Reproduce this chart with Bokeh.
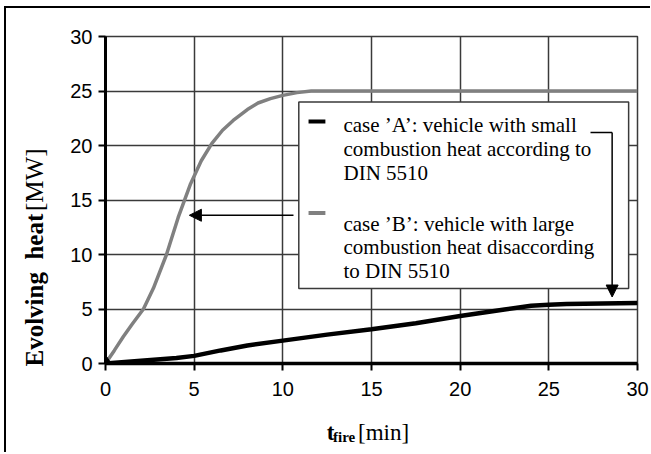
import math
from bokeh.plotting import figure
from bokeh.layouts import row, column
from bokeh.models import Range1d, FixedTicker, Arrow, NormalHead
from bokeh.core.properties import value
from bokeh.embed import file_html
from bokeh.resources import INLINE

# ---- data ----
t_A = [0, 2, 4, 5, 6.5, 8, 10, 12.5, 15, 17.5, 20, 22.5, 24, 25, 26, 28, 30]
heat_A = [0, 0.25, 0.5, 0.7, 1.2, 1.65, 2.1, 2.65, 3.15, 3.7, 4.35, 4.95, 5.3, 5.4, 5.45, 5.5, 5.55]

t_B = [0, 0.5, 1, 1.5, 2.14, 2.7, 3.44, 4.1, 4.8, 5.4, 6.0, 6.6, 7.2, 8.0, 8.6, 9.3, 10, 10.8, 11.6, 12.8, 15, 20, 25, 30]
heat_B = [0, 1.2, 2.45, 3.6, 5.0, 6.9, 10.0, 13.4, 16.5, 18.6, 20.2, 21.4, 22.3, 23.3, 23.9, 24.3, 24.6, 24.85, 25.0, 25.0, 25.0, 25.0, 25.0, 25.0]

ticks = [0, 5, 10, 15, 20, 25, 30]

legend_A = ["case \u2019A\u2019: vehicle with small", "combustion heat according to", "DIN 5510"]
legend_B = ["case \u2019B\u2019: vehicle with large", "combustion heat disaccording", "to DIN 5510"]

y_title_bold = "Evolving\u00a0 heat"
y_title_unit = "[MW]"
x_title_main = "t"
x_title_sub = "fire"
x_title_unit = "[min]"

SERIF = "Liberation Serif"
SANS = "Liberation Sans"

YW, TOTAL_H = 50, 444
MAIN_W, MAIN_H = 594, 400
XH = TOTAL_H - MAIN_H

p = figure(width=MAIN_W, height=MAIN_H, x_range=Range1d(0, 30), y_range=Range1d(0, 30),
           output_backend="svg", toolbar_location=None,
           min_border_left=49, min_border_right=13, min_border_top=28, min_border_bottom=45)

for ax in (p.xaxis[0], p.yaxis[0]):
    ax.ticker = FixedTicker(ticks=ticks)
    ax.major_label_text_font = SANS
    ax.major_label_text_font_size = "20px"
    ax.major_label_text_color = "black"
    ax.axis_line_color = "black"
    ax.major_tick_line_color = "black"
    ax.major_tick_line_width = 2
    ax.major_tick_out = 7
    ax.major_tick_in = 0
    ax.minor_tick_line_color = None
p.xaxis.axis_line_width = 3.5
p.yaxis.axis_line_width = 3
p.xaxis.major_label_standoff = 11
p.yaxis.major_label_standoff = 6

p.xgrid.ticker = FixedTicker(ticks=ticks)
p.ygrid.ticker = FixedTicker(ticks=ticks)
for g in (p.xgrid[0], p.ygrid[0]):
    g.grid_line_color = "#3a3a3a"
    g.grid_line_width = 1.5
p.outline_line_color = "#3a3a3a"
p.outline_line_width = 1.5
p.background_fill_color = "white"
p.border_fill_color = "white"

# curves
p.line(t_B, heat_B, line_color="#808080", line_width=3.5)
p.line(t_A, heat_A, line_color="black", line_width=4.5)
p.scatter([t_A[0]], [heat_A[0]], marker="diamond", size=17, color="black")

# legend box (layout)
p.quad(left=[10.9], right=[29.5], bottom=[6.87], top=[24.0],
       fill_color="white", line_color="#3a3a3a", line_width=1.5)
p.segment(x0=[11.45, 11.45], x1=[12.4, 12.4], y0=[22.2, 13.8], y1=[22.2, 13.8],
          line_color=["black", "#808080"], line_width=4)
line_step = 24 / 10.93
p.text(x=[13.42] * 3, y=[21.9 - i * line_step for i in range(3)], text=legend_A,
       text_font=value(SERIF), text_font_size="21px", text_baseline="alphabetic", text_color="black")
p.text(x=[13.42] * 3, y=[12.84 - i * line_step for i in range(3)], text=legend_B,
       text_font=value(SERIF), text_font_size="21px", text_baseline="alphabetic", text_color="black")

# arrows
head = dict(size=12, fill_color="black", line_color="black")
p.add_layout(Arrow(end=NormalHead(**head), x_start=10.6, y_start=13.6, x_end=4.73, y_end=13.6,
                   line_color="black", line_width=1.5))
p.add_layout(Arrow(end=None, x_start=27.35, y_start=21.2, x_end=28.57, y_end=21.2,
                   line_color="black", line_width=1.5))
p.add_layout(Arrow(end=NormalHead(**head), x_start=28.57, y_start=21.2, x_end=28.57, y_end=6.1,
                   line_color="black", line_width=1.5))


def text_panel(w, h):
    f = figure(width=w, height=h, x_range=Range1d(0, w), y_range=Range1d(0, h),
               output_backend="svg", toolbar_location=None, x_axis_type=None, y_axis_type=None,
               min_border=0)
    f.grid.visible = False
    f.outline_line_color = None
    f.background_fill_color = "white"
    f.border_fill_color = "white"
    return f

# y-axis title panel (pixel coordinates)
py = text_panel(YW, TOTAL_H)
py.text(x=[28], y=[86], text=[y_title_bold], angle=math.pi / 2, text_font=value(SERIF),
        text_font_style="bold", text_font_size="25px", text_align="left", text_baseline="middle",
        text_color="black")
py.text(x=[28], y=[304], text=[y_title_unit], angle=math.pi / 2, text_font=value(SERIF),
        text_font_size="25px", text_align="right", text_baseline="middle", text_color="black")

# x-axis title panel (pixel coordinates)
px = text_panel(MAIN_W, XH)
px.text(x=[247], y=[20], text=[x_title_main], text_font=value(SERIF), text_font_style="bold",
        text_font_size="23px", text_baseline="alphabetic", text_color="black")
px.text(x=[254], y=[16], text=[x_title_sub], text_font=value(SERIF), text_font_style="bold",
        text_font_size="15px", text_baseline="alphabetic", text_color="black")
px.text(x=[282], y=[20], text=[x_title_unit], text_font=value(SERIF),
        text_font_size="23px", text_baseline="alphabetic", text_color="black")

layout = row(py, column(p, px, spacing=0), spacing=0)
layout.styles = {"border-left": "2px solid black", "border-top": "2px solid black",
                 "margin-left": "4px", "margin-top": "6px"}

open("out.html", "w").write(file_html(layout, INLINE))
